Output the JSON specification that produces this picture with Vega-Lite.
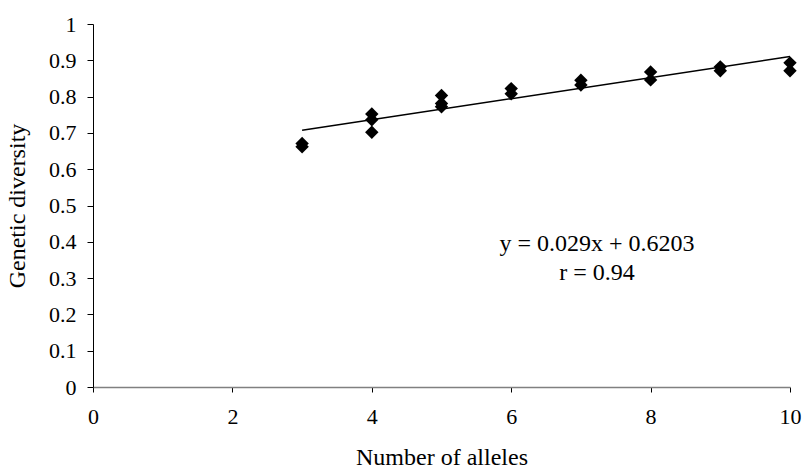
{
  "$schema": "https://vega.github.io/schema/vega-lite/v6.json",
  "autosize": "none",
  "width": 697,
  "height": 363,
  "padding": {"left": 93, "top": 24, "right": 13, "bottom": 85},
  "background": "white",
  "config": {"view": {"stroke": null}, "font": "Liberation Serif",
    "axis": {"labelFont": "Liberation Serif", "titleFont": "Liberation Serif"},
    "text": {"font": "Liberation Serif"}},
  "datasets": {
    "pts": [
      {"alleles": 3, "gd": 0.671}, {"alleles": 3, "gd": 0.662},
      {"alleles": 4, "gd": 0.752}, {"alleles": 4, "gd": 0.736}, {"alleles": 4, "gd": 0.702},
      {"alleles": 5, "gd": 0.803}, {"alleles": 5, "gd": 0.781}, {"alleles": 5, "gd": 0.772},
      {"alleles": 6, "gd": 0.822}, {"alleles": 6, "gd": 0.808},
      {"alleles": 7, "gd": 0.845}, {"alleles": 7, "gd": 0.832},
      {"alleles": 8, "gd": 0.868}, {"alleles": 8, "gd": 0.846},
      {"alleles": 9, "gd": 0.882}, {"alleles": 9, "gd": 0.871},
      {"alleles": 10, "gd": 0.893}, {"alleles": 10, "gd": 0.871}
    ],
    "fit": [{"alleles": 3, "gd": 0.7073}, {"alleles": 10, "gd": 0.9103}],
    "notes": [
      {"alleles": 7.23, "gd": 0.394, "label": "y = 0.029x + 0.6203"},
      {"alleles": 7.23, "gd": 0.313, "label": "r = 0.94"}
    ]
  },
  "encoding": {
    "x": {"field": "alleles", "type": "quantitative",
      "scale": {"domain": [0, 10], "nice": false, "zero": false},
      "axis": {"values": [0, 2, 4, 6, 8, 10], "tickCount": 20, "format": "d", "grid": false, "title": "Number of alleles",
        "titleFontSize": 24, "titleFontWeight": "normal", "titleColor": "black", "titlePadding": 18,
        "labelFontSize": 22, "labelColor": "black", "labelPadding": 14, "labelFlush": false, "labelOverlap": false, "labelBound": false,
        "domainColor": "#808080", "domainWidth": 1.5, "tickColor": "black", "tickSize": 5}},
    "y": {"field": "gd", "type": "quantitative",
      "scale": {"domain": [0, 1], "nice": false},
      "axis": {"values": [0, 0.1, 0.2, 0.3, 0.4, 0.5, 0.6, 0.7, 0.8, 0.9, 1], "tickCount": 20, "format": ".1~f", "grid": false, "title": "Genetic diversity",
        "titleFontSize": 24, "titleFontWeight": "normal", "titleColor": "black", "titlePadding": 19,
        "labelFontSize": 22, "labelColor": "black", "labelPadding": 11, "labelOverlap": false,
        "domainColor": "black", "tickColor": "black", "tickSize": 6}}
  },
  "layer": [
    {
      "data": {"name": "pts"},
      "mark": {"type": "point", "shape": "diamond", "filled": true, "color": "black", "size": 180, "opacity": 1}
    },
    {
      "data": {"name": "fit"},
      "mark": {"type": "line", "color": "black", "strokeWidth": 1.5}
    },
    {
      "data": {"name": "notes"},
      "mark": {"type": "text", "font": "Liberation Serif", "fontSize": 24, "color": "black", "align": "center", "baseline": "middle"},
      "encoding": {"text": {"field": "label"}}
    }
  ]
}
